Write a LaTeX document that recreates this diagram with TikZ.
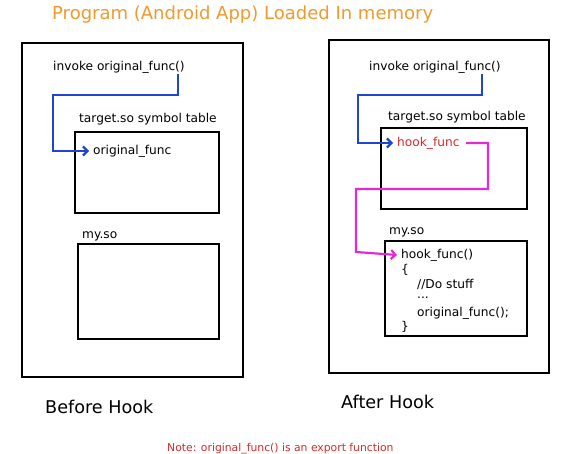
\documentclass[tikz,border=0pt]{standalone}
\usepackage{fontspec}
\setmainfont{DejaVu Sans}
\usetikzlibrary{arrows.meta}

\definecolor{titleorange}{HTML}{EE9A2E}
\definecolor{callblue}{HTML}{1F45D0}
\definecolor{hookpink}{HTML}{E22AD6}
\definecolor{notered}{HTML}{D42A2A}

\tikzset{
  box/.style={draw,line width=2.2pt},
  lbl/.style={anchor=west,inner sep=0pt,font=\fontsize{12.2}{14}\selectfont},
  big/.style={anchor=west,inner sep=0pt,font=\fontsize{17.6}{20}\selectfont},
  jump/.style={line width=2.2pt,-{Straight Barb[length=4.5pt,width=9pt]}}
}

\begin{document}
\begin{tikzpicture}[x=1pt,y=-1pt]
  \useasboundingbox (0,0) rectangle (588,454);

  % title
  \node[anchor=west,inner sep=0pt,text=titleorange,font=\fontsize{18}{20}\selectfont] (title) at (52,15) {Program (Android App) Loaded In memory};

  % before hook
  \draw[box] (22,43) rectangle (243,377);
  \node[lbl] (invL) at (53,67) {invoke original\_func()};
  \node[lbl] (tabL) at (79,119) {target.so symbol table};
  \draw[box] (75,132) rectangle (219,213);
  \node[lbl] (origL) at (93,151) {original\_func};
  \node[lbl] (myL) at (82,236) {my.so};
  \draw[box] (78,244) rectangle (219,339);
  \coordinate (bL1) at (178,74);
  \draw[jump,callblue] (bL1) |- (53,95) |- ([xshift=-4pt]origL.west);
  \node[big] (before) at (45,407) {Before Hook};

  % after hook
  \draw[box] (329,40) rectangle (549,373);
  \node[lbl] (invR) at (369,67) {invoke original\_func()};
  \node[lbl] (tabR) at (388,117) {target.so symbol table};
  \draw[box] (381,128) rectangle (527,209);
  \node[lbl,text=notered] (hookR) at (397,143) {hook\_func};
  \node[lbl] (myR) at (389,232) {my.so};
  \draw[box] (385,241) rectangle (527,336);
  \node[lbl] (c1) at (401,255) {hook\_func()};
  \node[lbl] (c2) at (401,270) {\{};
  \node[lbl] (c3) at (417,284) {//Do stuff};
  \node[lbl] (c4) at (417,298) {...};
  \node[lbl] (c5) at (417,313) {original\_func();};
  \node[lbl] (c6) at (401,327) {\}};
  \coordinate (bR1) at (482,74);
  \draw[jump,callblue] (bR1) |- (358,95) |- ([xshift=-4pt]hookR.west);
  \coordinate (pR1) at (466,143);
  \draw[jump,hookpink] (pR1) -| (488,189) -| (356,252) -- ([xshift=-4pt]c1.west);
  \node[big] (after) at (341,402) {After Hook};

  % note
  \node[anchor=west,inner sep=0pt,text=notered,font=\fontsize{10.8}{12}\selectfont] (note) at (167,449) {Note: original\_func() is an export function};
\end{tikzpicture}
\end{document}
